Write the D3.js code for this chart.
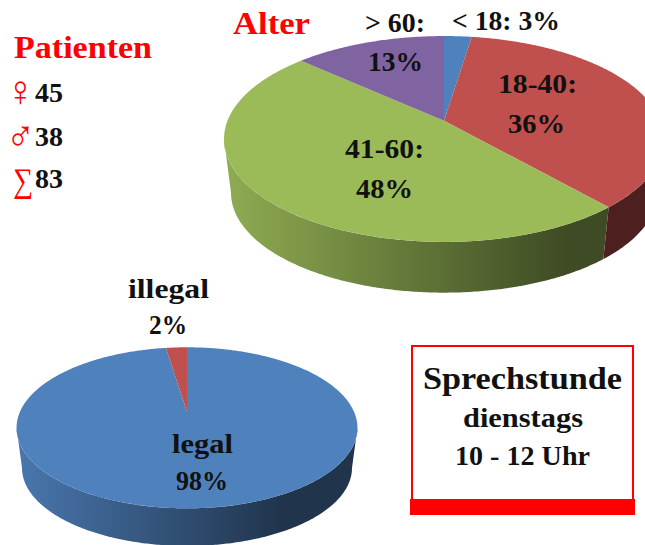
<!DOCTYPE html>
<html><head><meta charset="utf-8">
<script src="https://cdn.jsdelivr.net/npm/d3@7"></script>
<style>html,body{margin:0;padding:0;background:#fff;overflow:hidden}svg{display:block}
text{font-family:"Liberation Serif",serif;font-weight:700;fill:#111}</style>
</head><body><svg id="c" width="645" height="545"></svg>
<script>
const ageGroups = ["< 18", "18-40", "41-60", "> 60"];
const ageCounts = [2, 30, 40, 11];
const ageColors = ["#4F81BD", "#C0504D", "#9BBB59", "#8064A2"];
const legalGroups = ["legal", "illegal"];
const legalCounts = [81, 2];
const legalColors = ["#4F81BD", "#C0504D"];
const patientSymbols = ["\u2640", "\u2642", "\u2211"];
const patientNumbers = ["45", "38", "83"];

const svg = d3.select("#c");
const defs = svg.append("defs");
const pie = d3.pie().sort(null).value(d => d);
let gid = 0;

function tone(c, f) {
  const r = d3.rgb(c);
  return d3.rgb(r.r * f, r.g * f, r.b * f).formatHex();
}
function drawPie(values, colors, g) {
  const project = (a, top) => {
    const u = Math.sin(a), v = Math.cos(a), s = 1 / (1 + g.k * v);
    const f = top ? 1 : g.shrink, y0 = top ? g.y0 : g.y0b;
    return [g.cx + g.A * f * u * s, y0 - g.B * f * v * s];
  };
  const line = d3.line();
  const arcs = pie(values);
  const span = (a0, a1) => {
    const n = Math.max(2, Math.ceil((a1 - a0) / 0.01));
    return d3.range(n + 1).map(i => a0 + (a1 - a0) * i / n);
  };
  // the side wall is visible only between the two silhouette angles
  const wallFrom = Math.acos(-g.k), wallTo = 2 * Math.PI - wallFrom;
  const root = svg.append("g");
  arcs.forEach((d, i) => {
    const a0 = Math.max(d.startAngle, wallFrom), a1 = Math.min(d.endAngle, wallTo);
    if (a1 <= a0) return;
    const id = "w" + (gid++);
    const lg = defs.append("linearGradient").attr("id", id)
      .attr("gradientUnits", "userSpaceOnUse")
      .attr("x1", g.cx - g.rx).attr("x2", g.cx + g.rx).attr("y1", 0).attr("y2", 0);
    lg.append("stop").attr("offset", 0).attr("stop-color", tone(colors[i], 0.92));
    lg.append("stop").attr("offset", 0.78).attr("stop-color", tone(colors[i], 0.4));
    lg.append("stop").attr("offset", 1).attr("stop-color", tone(colors[i], 0.4));
    const as = span(a0, a1);
    root.append("path")
      .attr("d", line(as.map(a => project(a, true)).concat(as.slice().reverse().map(a => project(a, false)))) + "Z")
      .attr("fill", "url(#" + id + ")");
  });
  arcs.forEach((d, i) => {
    root.append("path")
      .attr("d", line([[g.cx, g.y0]].concat(span(d.startAngle, d.endAngle).map(a => project(a, true)))) + "Z")
      .attr("fill", colors[i]);
  });
}
drawPie(ageCounts, ageColors, {cx:444, y0:120.7, y0b:175.3, A:216.5, B:99.7, k:0.1776, shrink:0.968, rx:220});
drawPie(legalCounts, legalColors, {cx:187, y0:411.7, y0b:452.4, A:167, B:77.3, k:0.2, shrink:0.968, rx:170.5});

function label(t, x1, x2, y, size, fill) {
  const el = svg.append("text").attr("x", x1).attr("y", y).attr("font-size", size)
    .attr("textLength", x2 - x1).attr("lengthAdjust", "spacingAndGlyphs").text(t);
  if (fill) el.style("fill", fill);
  return el;
}
const RED = "#FF0000";
label("Patienten", 14, 152, 58, 31, RED);
label("Alter", 233, 310, 34, 31, RED);
const symY = [106, 151, 192], symX = [[6,35],[6,35],[13,33]], symSize = [44, 44, 34], numX = [35, 35, 35], numY = [102, 146, 188];
patientSymbols.forEach((s, i) => {
  const t = label(s, symX[i][0], symX[i][1], symY[i], symSize[i], RED);
  t.style("font-weight", 400);
  label(patientNumbers[i], numX[i], numX[i] + 28, numY[i], 27);
});
label(ageGroups[3] + ":", 365, 425, 32, 27);
label(ageGroups[0] + ": 3%", 452, 560, 30, 27);
label("13%", 368, 423, 71, 27);
label(ageGroups[1] + ":", 498, 577, 93, 27);
label("36%", 508, 565, 133, 27);
label(ageGroups[2] + ":", 345, 424, 158, 27);
label("48%", 356, 413, 198, 27);
label(legalGroups[1], 128, 209, 298, 27);
label("2%", 149, 187, 334, 27);
label(legalGroups[0], 172, 233, 453, 27);
label("98%", 176, 228, 490, 27);

svg.append("rect").attr("x", 412).attr("y", 346).attr("width", 221).attr("height", 155)
  .attr("fill", "#fff").attr("stroke", RED).attr("stroke-width", 2);
svg.append("rect").attr("x", 410).attr("y", 499).attr("width", 225).attr("height", 16).attr("fill", RED);
label("Sprechstunde", 423, 622, 389, 32);
label("dienstags", 463, 583, 427, 27);
label("10 - 12 Uhr", 455, 590, 465, 27);
</script></body></html>
